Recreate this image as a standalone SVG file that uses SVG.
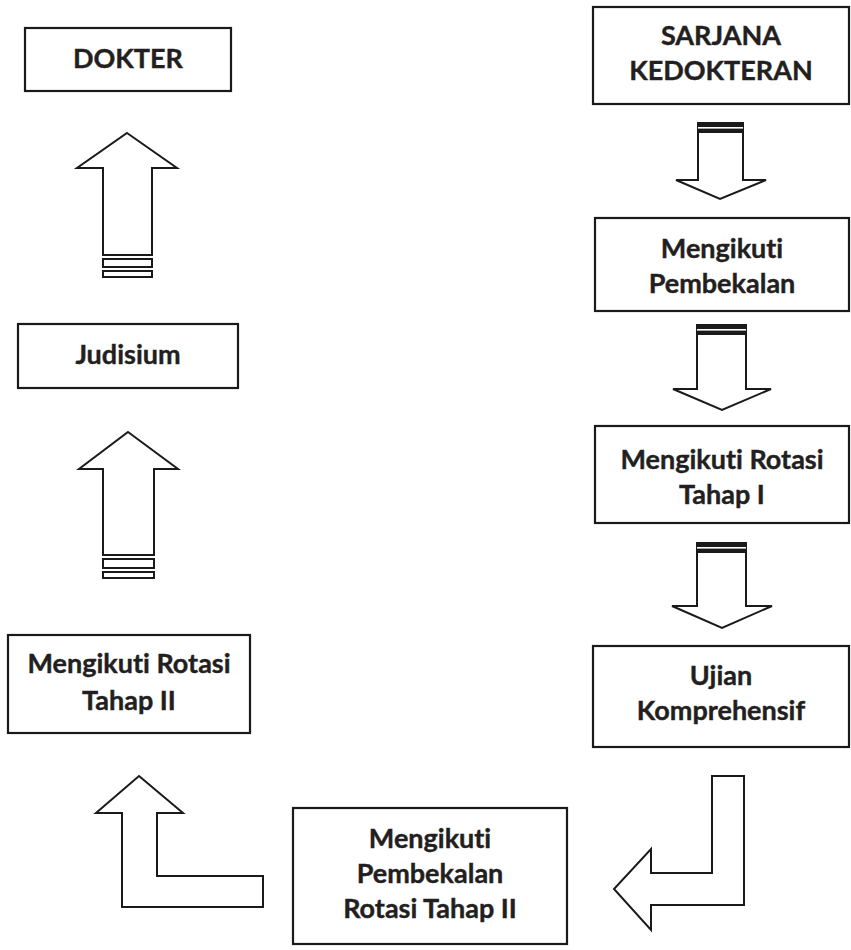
<svg xmlns="http://www.w3.org/2000/svg" width="851" height="950" viewBox="0 0 851 950">
<style>
.box{fill:#fff;stroke:#1a1a1a;stroke-width:2.2}
.arr{fill:#fff;stroke:#1a1a1a;stroke-width:2;stroke-linejoin:miter}
.band{fill:#1a1a1a}
.t{font-family:Lato,"Open Sans","Liberation Sans",sans-serif;font-weight:700;font-size:27px;fill:#231f20;stroke:#231f20;stroke-width:0.4;text-anchor:middle;font-variant-ligatures:none;font-feature-settings:"liga" 0}
</style>
<rect width="851" height="950" fill="#fff"/>
<g id="connectors">
  <g id="arrow-down-1">
    <polygon class="arr" points="698,123 743,123 743,180 766,180 720,199 676,180 698,180"/>
    <rect class="band" x="697" y="122" width="47" height="11"/>
    <rect x="698" y="127" width="45" height="1.6" fill="#fff"/>
  </g>
  <g id="arrow-down-2">
    <polygon class="arr" points="697,325 746,325 746,389 771,389 722,410 673,389 697,389"/>
    <rect class="band" x="696" y="324" width="51" height="11"/>
    <rect x="697" y="329" width="49" height="1.6" fill="#fff"/>
  </g>
  <g id="arrow-down-3">
    <polygon class="arr" points="697,543 746,543 746,606 772,606 722,628 672,606 697,606"/>
    <rect class="band" x="696" y="542" width="51" height="11"/>
    <rect x="697" y="547" width="49" height="1.6" fill="#fff"/>
  </g>
  <polygon id="arrow-bend-right" class="arr" points="712,776 744,776 744,905 651,905 651,930 614,889 651,849 651,873 712,873"/>
  <polygon id="arrow-bend-left" class="arr" points="139,776 183,813 157,813 157,876 263,876 263,907 122,907 122,813 96,813"/>
  <g id="arrow-up-1">
    <polygon class="arr" points="127,133 177,168 152,168 152,255 103,255 103,168 77,168"/>
    <rect class="arr" x="103" y="259" width="49" height="8"/>
    <rect class="arr" x="103" y="271" width="49" height="6"/>
  </g>
  <g id="arrow-up-2">
    <polygon class="arr" points="128,432 178,469 154,469 154,555 103,555 103,469 79,469"/>
    <rect class="arr" x="103" y="559" width="51" height="9"/>
    <rect class="arr" x="103" y="572" width="51" height="6"/>
  </g>
</g>
<g id="dokter">
  <rect class="box" x="25" y="28" width="206" height="63"/>
  <text class="t" x="128" y="68">DOKTER</text>
</g>
<g id="sarjana">
  <rect class="box" x="593" y="7" width="256" height="97"/>
  <text class="t" x="721" y="45">SARJANA</text>
  <text class="t" x="721" y="80">KEDOKTERAN</text>
</g>
<g id="pembekalan">
  <rect class="box" x="595" y="218" width="254" height="93"/>
  <text class="t" x="722" y="258">Mengikuti</text>
  <text class="t" x="722" y="293">Pembekalan</text>
</g>
<g id="rotasi1">
  <rect class="box" x="595" y="426" width="254" height="97"/>
  <text class="t" x="722" y="469">Mengikuti Rotasi</text>
  <text class="t" x="722" y="504">Tahap I</text>
</g>
<g id="ujian">
  <rect class="box" x="593" y="646" width="256" height="101"/>
  <text class="t" x="721" y="685">Ujian</text>
  <text class="t" x="721" y="720">Komprehensif</text>
</g>
<g id="pembekalan2">
  <rect class="box" x="293" y="808" width="274" height="136"/>
  <text class="t" x="430" y="848">Mengikuti</text>
  <text class="t" x="430" y="883">Pembekalan</text>
  <text class="t" x="430" y="918">Rotasi Tahap II</text>
</g>
<g id="rotasi2">
  <rect class="box" x="8" y="635" width="242" height="98"/>
  <text class="t" x="129" y="673">Mengikuti Rotasi</text>
  <text class="t" x="129" y="710">Tahap II</text>
</g>
<g id="judisium">
  <rect class="box" x="18" y="324" width="220" height="64"/>
  <text class="t" x="128" y="364">Judisium</text>
</g>
</svg>
